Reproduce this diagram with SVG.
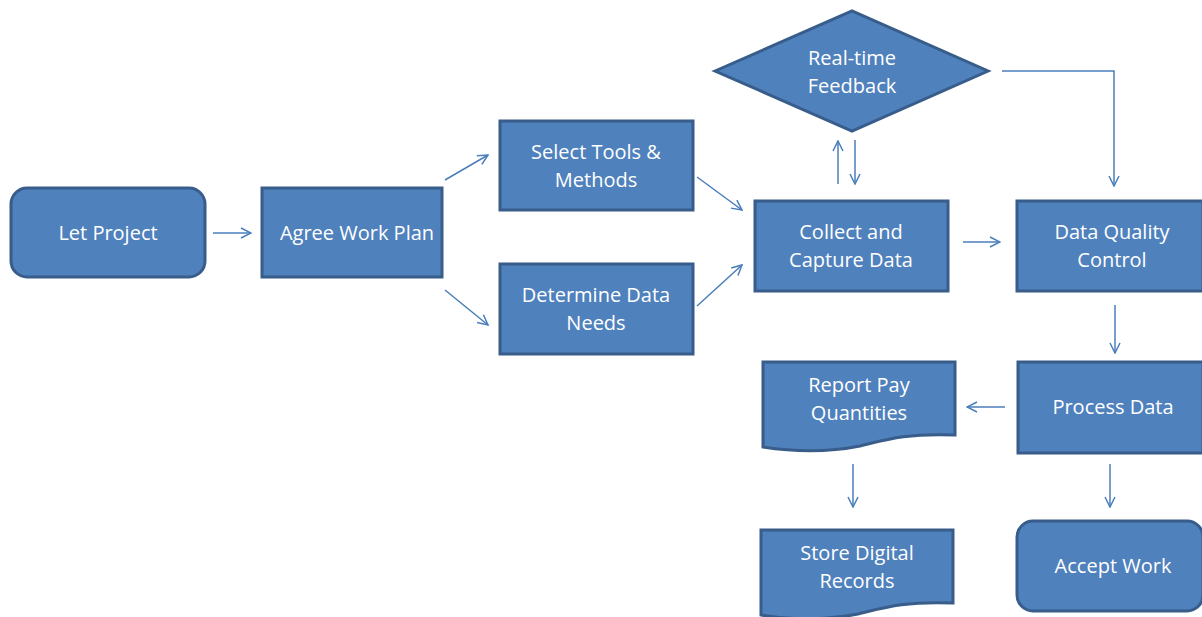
<svg xmlns="http://www.w3.org/2000/svg" width="1202" height="617" viewBox="0 0 1202 617">
<style>
.n{fill:#4F81BD;stroke:#385D8A;stroke-width:3}
.t{fill:#fff;font-family:"Open Sans","Liberation Sans",sans-serif;font-size:20px;text-anchor:middle}
.c{fill:none;stroke:#4A7EBB;stroke-width:1.5}
</style>
<defs>
<marker id="a" viewBox="0 0 12 12" refX="11" refY="6" markerWidth="12" markerHeight="12" markerUnits="userSpaceOnUse" orient="auto">
<path d="M1,1 L11,6 L1,11" fill="none" stroke="#4A7EBB" stroke-width="1.5"/>
</marker>
</defs>
<rect width="1202" height="617" fill="#fff"/>
<g id="connectors">
<line class="c" x1="213" y1="233" x2="251" y2="233" marker-end="url(#a)"/>
<line class="c" x1="445" y1="180" x2="488" y2="155" marker-end="url(#a)"/>
<line class="c" x1="445" y1="290" x2="488" y2="325" marker-end="url(#a)"/>
<line class="c" x1="697" y1="177" x2="742" y2="210" marker-end="url(#a)"/>
<line class="c" x1="697" y1="306" x2="742" y2="265" marker-end="url(#a)"/>
<line class="c" x1="838" y1="184" x2="838" y2="141" marker-end="url(#a)"/>
<line class="c" x1="855" y1="140" x2="855" y2="184" marker-end="url(#a)"/>
<polyline class="c" points="1002,71 1114,71 1114,186" marker-end="url(#a)"/>
<line class="c" x1="963" y1="242" x2="1000" y2="242" marker-end="url(#a)"/>
<line class="c" x1="1115" y1="305" x2="1115" y2="353" marker-end="url(#a)"/>
<line class="c" x1="1005" y1="407" x2="967" y2="407" marker-end="url(#a)"/>
<line class="c" x1="853" y1="464" x2="853" y2="507" marker-end="url(#a)"/>
<line class="c" x1="1110" y1="464" x2="1110" y2="507" marker-end="url(#a)"/>
</g>
<g id="let-project"><rect class="n" x="11" y="188" width="194" height="89" rx="16"/><text class="t" x="108" y="240">Let Project</text></g>
<g id="agree-work-plan"><rect class="n" x="262" y="188" width="180" height="89"/><text class="t" x="357" y="240">Agree Work Plan</text></g>
<g id="select-tools"><rect class="n" x="500" y="121" width="193" height="89"/><text class="t" x="596" y="159">Select Tools &amp;</text><text class="t" x="596" y="187">Methods</text></g>
<g id="determine-data"><rect class="n" x="500" y="264" width="193" height="90"/><text class="t" x="596" y="302">Determine Data</text><text class="t" x="596" y="330">Needs</text></g>
<g id="collect-data"><rect class="n" x="755" y="201" width="193" height="90"/><text class="t" x="851" y="239">Collect and</text><text class="t" x="851" y="267">Capture Data</text></g>
<g id="realtime-feedback"><polygon class="n" points="715,71 852,11 988,71 852,131"/><text class="t" x="852" y="65">Real-time</text><text class="t" x="852" y="93">Feedback</text></g>
<g id="data-quality"><rect class="n" x="1017" y="201" width="186" height="90"/><text class="t" x="1112" y="239">Data Quality</text><text class="t" x="1112" y="267">Control</text></g>
<g id="process-data"><rect class="n" x="1018" y="362" width="185" height="91"/><text class="t" x="1113" y="414">Process Data</text></g>
<g id="report-pay"><path class="n" d="M763,362 H955 V435 C905,433 885,440 860,446 C830,452 795,452 763,447 Z"/><text class="t" x="859" y="392">Report Pay</text><text class="t" x="859" y="420">Quantities</text></g>
<g id="accept-work"><rect class="n" x="1017" y="521" width="186" height="90" rx="16"/><text class="t" x="1113" y="573">Accept Work</text></g>
<g id="store-records"><path class="n" d="M761,530 H953 V603 C903,601 883,608 858,614 C828,620 793,620 761,615 Z"/><text class="t" x="857" y="560">Store Digital</text><text class="t" x="857" y="588">Records</text></g>
</svg>
